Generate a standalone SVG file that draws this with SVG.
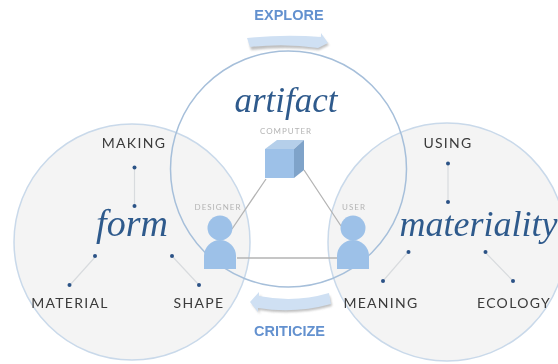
<svg xmlns="http://www.w3.org/2000/svg" width="558" height="364" viewBox="0 0 558 364">
<defs>
<style>
.c{fill:#f4f4f4;stroke:#c9d9ea;stroke-width:1.5}
.lbl{font-family:"Lato","Liberation Sans",sans-serif;font-size:14px;fill:#3a3a3a;letter-spacing:1.3px;text-anchor:middle}
.sm{font-family:"Lato","Liberation Sans",sans-serif;font-size:8px;fill:#b4b4b4;letter-spacing:1px;text-anchor:middle}
.big{font-family:"Liberation Serif",serif;font-style:italic;fill:#2f5a8c;text-anchor:middle}
.act{font-family:"Liberation Sans",sans-serif;font-weight:bold;font-size:14.500px;fill:#6391cf;text-anchor:middle}
.dot{fill:#2c5286}
.thin{stroke:#d8dbde;stroke-width:1.2;fill:none}
.link{stroke:#b4b4b4;stroke-width:1.3;fill:none}
.p{fill:#9dc1e8}
.arrow{fill:#cfe0f3}
.sh{fill:#8a8a8a;opacity:.55}
</style>
<filter id="b" x="-5%" y="-5%" width="110%" height="110%"><feGaussianBlur stdDeviation="0.6"/></filter>
<filter id="s" x="-10%" y="-30%" width="120%" height="170%"><feGaussianBlur stdDeviation="1"/></filter>
</defs>
<g filter="url(#b)">
<g id="form-circle"><circle class="c" cx="132" cy="242" r="118"/></g>
<g id="materiality-circle"><circle class="c" cx="447" cy="242" r="119"/></g>
<g id="artifact-circle"><circle cx="288.500" cy="169" r="118" fill="none" stroke="#a6bfda" stroke-width="1.500"/></g>
<g id="connectors">
<path class="link" d="M266,179L232,229M304,170L341,226M237,258L337,258"/>
<path class="thin" d="M134.500,168V206M96,256L70,285M172,256L199,285M448,164V202M408,252L383,281M485,252L513,281"/>
</g>
<g id="explore">
<text class="act" x="289" y="20">EXPLORE</text>
<path class="sh" d="M249,41Q285,37 321,39L321,36L329,45L319,50Q285,46 251,50Z" filter="url(#s)"/>
<path class="arrow" d="M247,38Q285,34 321,37L321,33L328,43L318,48Q285,43 250,47Z"/>
</g>
<g id="criticize">
<text class="act" x="289.500" y="336">CRITICIZE</text>
<path class="sh" d="M252,304L261,295L261,299Q295,305 330,296L332,306Q295,316 259,310L260,314Z" filter="url(#s)"/>
<path class="arrow" d="M250,302L259,292L259,296Q295,303 329,293L331,304Q295,314 258,308L258,312Z"/>
</g>
<g id="artifact-title"><text class="big" x="286" y="112" font-size="35">artifact</text></g>
<g id="computer">
<text class="sm" x="286" y="134">COMPUTER</text>
<path d="M265,149L277,140H304L294,149Z" fill="#b5cfea"/>
<path d="M294,149L304,140V170L294,178Z" fill="#7fa3c9"/>
<rect x="265" y="149" width="29" height="29" fill="#9dc1e8"/>
</g>
<g id="designer">
<text class="sm" x="218" y="210">DESIGNER</text>
<circle class="p" cx="220" cy="228" r="12.500"/>
<path class="p" d="M204,269V256A16,16 0 0 1 236,256V269Z"/>
</g>
<g id="user">
<text class="sm" x="354" y="210">USER</text>
<circle class="p" cx="353" cy="228" r="12.500"/>
<path class="p" d="M337,269V256A16,16 0 0 1 369,256V269Z"/>
</g>
<g id="form">
<text class="big" x="132" y="236" font-size="38">form</text>
<text class="lbl" x="134" y="148">MAKING</text>
<text class="lbl" x="70" y="308">MATERIAL</text>
<text class="lbl" x="199" y="308">SHAPE</text>
<circle class="dot" cx="134.500" cy="167.500" r="2"/><circle class="dot" cx="134.500" cy="206" r="2"/>
<circle class="dot" cx="95" cy="256" r="2"/><circle class="dot" cx="69.500" cy="285" r="2"/>
<circle class="dot" cx="172" cy="256" r="2"/><circle class="dot" cx="199" cy="285" r="2"/>
</g>
<g id="materiality">
<text class="big" x="478.500" y="236" font-size="36">materiality</text>
<text class="lbl" x="448" y="148">USING</text>
<text class="lbl" x="381" y="308">MEANING</text>
<text class="lbl" x="514" y="308">ECOLOGY</text>
<circle class="dot" cx="448" cy="163.500" r="2"/><circle class="dot" cx="448" cy="202" r="2"/>
<circle class="dot" cx="408.500" cy="252" r="2"/><circle class="dot" cx="383" cy="281" r="2"/>
<circle class="dot" cx="485.500" cy="252" r="2"/><circle class="dot" cx="513" cy="281" r="2"/>
</g>
</g>
</svg>
